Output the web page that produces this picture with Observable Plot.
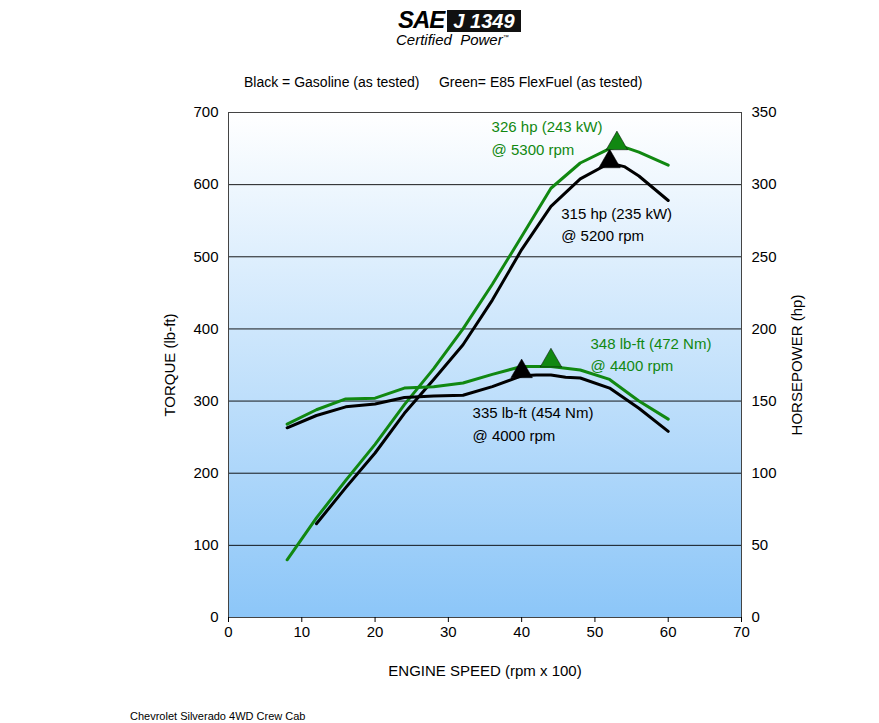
<!DOCTYPE html>
<html><head><meta charset="utf-8">
<script src="https://cdn.jsdelivr.net/npm/d3@7"></script>
<script src="https://cdn.jsdelivr.net/npm/@observablehq/plot@0.6"></script>
<style>
body{margin:0;background:#fff;font-family:Helvetica,Arial,"Liberation Sans",sans-serif;}
#wrap{position:relative;width:879px;height:723px;}
.abs{position:absolute;white-space:nowrap;}
</style></head><body>
<div id="wrap">
<div class="abs" style="left:398px;top:6px;font:italic 900 24px 'Liberation Sans',Arial;letter-spacing:-1px;">SAE<span style="background:#111;color:#fff;padding:0 6px;margin-left:3px;font-size:20px;letter-spacing:0">J 1349</span></div>
<div class="abs" style="left:396px;top:31px;font:italic 15px 'Liberation Sans',Arial;">Certified&nbsp; Power<sup style="font-size:6px">™</sup></div>
<div class="abs" style="left:244px;top:74px;font-size:14px;">Black = Gasoline (as tested)&nbsp;&nbsp;&nbsp;&nbsp; Green= E85 FlexFuel (as tested)</div>
<div class="abs" style="left:130px;top:710px;font-size:11px;">Chevrolet Silverado 4WD Crew Cab</div>
<div id="chart" class="abs" style="left:0;top:0"></div>
</div>
<script>
const rpmGasT=[8,12,16,20,24,28,32,36,40,42,44,46,48,52,56,60];
const gasTorque=[263,280,292,296,305,307,308,320,335,336,336,333,332,318,290,258];
const rpmE85T=[8,12,16,20,24,28,32,36,40,44,48,52,56,60];
const e85Torque=[268,288,303,304,318,320,325,337,348,348,343,330,300,275];
const rpmGasP=[12,16,20,24,28,32,36,40,44,48,52,54,56,60];
const gasHp=[65,90,114,141.5,165,189,220,255,285,304,315,312.5,306,289];
const rpmE85P=[8,12,16,20,24,28,32,36,40,44,48,52,53,54,56,60];
const e85Hp=[40,69,95,120,147.5,172.5,200,231,264,297.5,315,325,326,326,322.5,313.5];
const peaks=[{x:40,y:341,c:"black"},{x:44,y:356,c:"green"},{x:52,y:632,c:"black"},{x:53,y:657,c:"green"}];
const notes=[
 {x:33.3,y:298,t:"335 lb-ft (454 Nm)\n@ 4000 rpm",c:"black"},
 {x:49.4,y:395,t:"348 lb-ft (472 Nm)\n@ 4400 rpm",c:"green"},
 {x:45.4,y:575,t:"315 hp (235 kW)\n@ 5200 rpm",c:"black"},
 {x:35.9,y:695,t:"326 hp (243 kW)\n@ 5300 rpm",c:"green"}];
const lines=[
 ...rpmGasT.map((x,i)=>({x,y:gasTorque[i],s:"gT"})),
 ...rpmE85T.map((x,i)=>({x,y:e85Torque[i],s:"eT"})),
 ...rpmGasP.map((x,i)=>({x,y:gasHp[i]*2,s:"gP"})),
 ...rpmE85P.map((x,i)=>({x,y:e85Hp[i]*2,s:"eP"}))];
const col=s=>s[0]==="g"?"black":"#118811";
const yt=d3.range(0,701,100);
const plot=Plot.plot({
 width:879,height:723,marginLeft:228,marginRight:138,marginTop:112,marginBottom:106,
 style:{fontFamily:"Helvetica,Arial,'Liberation Sans',sans-serif",fontSize:"15px",color:"black"},
 x:{domain:[0,70],ticks:d3.range(0,71,10)},
 y:{domain:[0,700],ticks:yt},
 marks:[
  Plot.frame({fill:"url(#bg)"}),
  Plot.gridY(yt,{stroke:"black",strokeOpacity:0.9,strokeWidth:1}),
  Plot.frame({stroke:"#444"}),
  Plot.axisX(d3.range(0,71,10),{tickSize:5,label:"ENGINE SPEED (rpm x 100)",labelAnchor:"center",labelArrow:"none",labelOffset:58,fontSize:15}),
  Plot.axisY(yt,{tickSize:0,tickPadding:10,label:"TORQUE (lb-ft)",labelAnchor:"center",labelArrow:"none",labelOffset:64,fontSize:15}),
  Plot.axisY(yt,{anchor:"right",tickSize:0,tickPadding:10,tickFormat:d=>d/2,label:"HORSEPOWER (hp)",labelAnchor:"center",labelArrow:"none",labelOffset:60,fontSize:15}),
  ...["eP","gP","eT","gT"].map(s=>Plot.line(lines.filter(d=>d.s===s),{x:"x",y:"y",stroke:col(s),strokeWidth:3})),
  Plot.dot(peaks,{x:"x",y:"y",symbol:"triangle",r:8,fill:d=>d.c==="black"?"black":"#118811",stroke:"black",strokeWidth:0.5}),
  Plot.text(notes,{x:"x",y:"y",text:"t",fill:d=>d.c==="black"?"black":"#118811",textAnchor:"start",lineAnchor:"top",lineHeight:1.5,fontSize:15})
 ]});
const defs=document.createElementNS("http://www.w3.org/2000/svg","defs");
defs.innerHTML='<linearGradient id="bg" x1="0" y1="0" x2="0" y2="1"><stop offset="0" stop-color="#ffffff"/><stop offset="1" stop-color="#8cc6f8"/></linearGradient>';
plot.prepend(defs);
document.getElementById("chart").appendChild(plot);
</script></body></html>
